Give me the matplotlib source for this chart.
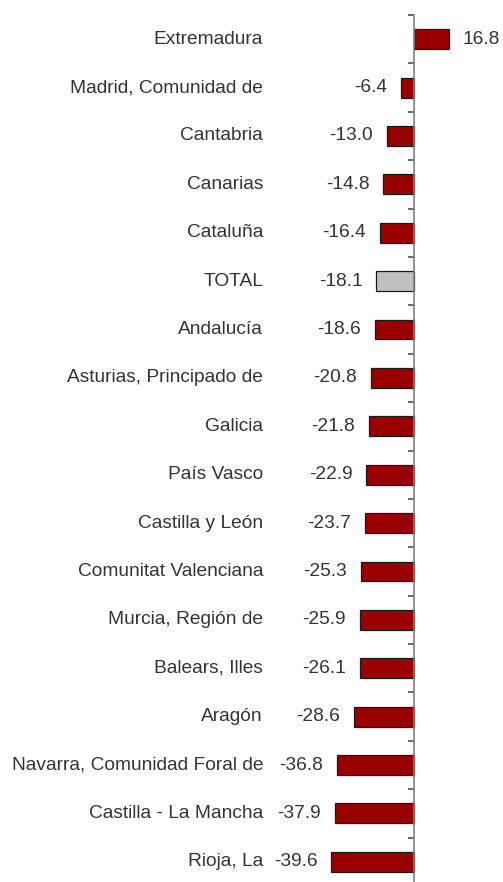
import matplotlib
matplotlib.use("Agg")
import matplotlib.pyplot as plt

regions = ["Extremadura", "Madrid, Comunidad de", "Cantabria", "Canarias", "Cataluña",
           "TOTAL", "Andalucía", "Asturias, Principado de", "Galicia", "País Vasco",
           "Castilla y León", "Comunitat Valenciana", "Murcia, Región de", "Balears, Illes",
           "Aragón", "Navarra, Comunidad Foral de", "Castilla - La Mancha", "Rioja, La"]
values = [16.8, -6.4, -13.0, -14.8, -16.4, -18.1, -18.6, -20.8, -21.8, -22.9,
          -23.7, -25.3, -25.9, -26.1, -28.6, -36.8, -37.9, -39.6]

plt.rcParams['font.family'] = ['Liberation Sans', 'DejaVu Sans']

W, H, DPI = 503, 882, 100
fig = plt.figure(figsize=(W / DPI, H / DPI), dpi=DPI)
fig.patch.set_facecolor('white')

scale = 2.085  # px per unit
zero_px = 414
top_px, bot_px = 15, 886
ax = fig.add_axes([0, 1 - bot_px / H, 1, (bot_px - top_px) / H])
ax.set_xlim(-zero_px / scale, (W - zero_px) / scale)
n = len(regions)
ax.set_ylim(n - 0.5, -0.5)

colors = ['#C0C0C0' if r == 'TOTAL' else '#990000' for r in regions]
ys = list(range(n))
ax.barh(ys, values, height=0.41, color=colors, edgecolor='#1a1a1a', linewidth=0.9, zorder=3)

txt_color = '#333333'
fs = 13.75
for y, r, v in zip(ys, regions, values):
    ax.text((263 - zero_px) / scale, y, r, ha='right', va='center', fontsize=fs, color=txt_color)
    if v >= 0:
        ax.annotate(f"{v:.1f}", (v, y), xytext=(10, 0), textcoords='offset points',
                    ha='left', va='center', fontsize=fs, color=txt_color)
    else:
        ax.annotate(f"{v:.1f}", (v, y), xytext=(-10, 0), textcoords='offset points',
                    ha='right', va='center', fontsize=fs, color=txt_color)

for s in ['top', 'right', 'bottom']:
    ax.spines[s].set_visible(False)
ax.spines['left'].set_position(('data', 0))
ax.spines['left'].set_color('#808080')
ax.spines['left'].set_linewidth(1.2)
ax.spines['left'].set_zorder(4)
ax.set_yticks([i - 0.5 for i in range(n + 1)])
ax.set_yticklabels([])
ax.tick_params(axis='y', direction='out', length=4.3, width=1.1, color='#404040')
ax.set_xticks([])
ax.patch.set_alpha(0)

fig.savefig("out.png", dpi=DPI, facecolor='white')
